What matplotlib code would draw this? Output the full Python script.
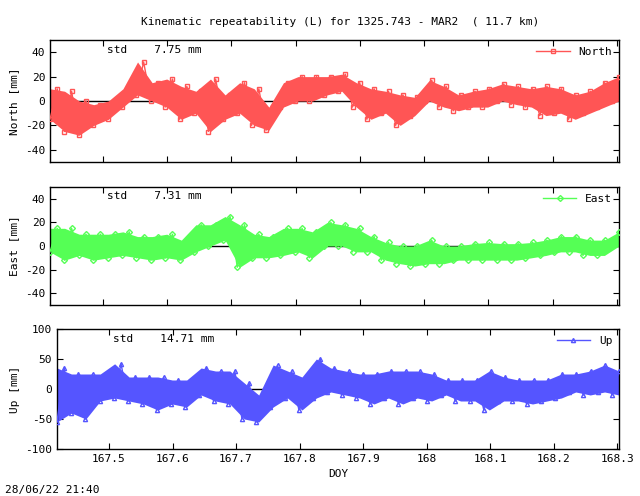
import numpy as np
import matplotlib
matplotlib.use("Agg")
import matplotlib.pyplot as plt

x_start, x_end = 167.418, 168.303
# per-segment (low, high) envelopes, mm
north_low = [-15,-25,-28,-20,-15,-5,5,0,-5,-15,-10,-25,-15,-10,-20,-24,-5,0,0,5,8,-5,-15,-10,-20,-12,0,-5,-8,-5,-5,0,-3,-5,-12,-10,-15,-10,-5,0]
north_high = [10,8,0,-3,0,10,32,15,18,12,8,18,5,15,10,-5,15,20,20,20,22,15,10,8,5,3,17,12,5,8,10,14,12,10,12,10,5,8,15,20]
east_low = [-5,-12,-8,-12,-10,-8,-10,-12,-10,-12,-5,0,5,-18,-10,-10,-8,-5,-10,0,0,-5,-5,-12,-15,-17,-15,-15,-12,-12,-12,-12,-12,-10,-8,-5,-5,-8,-8,0]
east_high = [15,15,10,10,10,12,8,8,10,5,18,18,25,18,10,8,15,15,12,20,18,15,8,3,0,0,5,0,0,2,3,2,2,3,5,8,8,5,5,12]
up_low = [-55,-40,-50,-20,-15,-20,-25,-35,-25,-30,-10,-20,-25,-50,-55,-30,-15,-35,-15,-5,-10,-15,-25,-15,-25,-15,-20,-10,-20,-20,-35,-20,-20,-25,-20,-15,-5,-10,-5,-10]
up_high = [35,25,25,25,42,20,20,20,15,15,35,30,30,10,-10,40,30,20,50,35,30,25,25,30,30,30,25,15,15,15,30,20,15,15,15,25,25,30,40,30]

def zig(low, high):
    n = len(low)
    xs = np.linspace(x_start, x_end, 2 * n)
    ys = np.empty(2 * n)
    ys[0::2] = low
    ys[1::2] = high
    return xs, ys

plt.rcParams["font.family"] = "DejaVu Sans Mono"
plt.rcParams["font.size"] = 8
fig = plt.figure(figsize=(6.4, 4.96), dpi=100)
W, H = 640, 496
def ax_at(l, t, r, b):
    return fig.add_axes([l / W, 1 - b / H, (r - l) / W, (b - t) / H])

panels = [
    (ax_at(50, 40, 619, 162), north_low, north_high, "North", "#ff5555", "s", (-50, 50), [-40, -20, 0, 20, 40], "std    7.75 mm"),
    (ax_at(50, 187, 619, 305), east_low, east_high, "East", "#55ff55", "D", (-50, 50), [-40, -20, 0, 20, 40], "std    7.31 mm"),
    (ax_at(57, 329, 619, 449), up_low, up_high, "Up", "#5555ff", "^", (-100, 100), [-100, -50, 0, 50, 100], "std    14.71 mm"),
]
for i, (ax, lo, hi, name, col, mk, yl, yt, std) in enumerate(panels):
    xs, ys = zig(lo, hi)
    xc = np.linspace(x_start, x_end, len(lo))
    ax.axhline(0, color="black", lw=1, zorder=1)
    ax.fill_between(xc, lo, hi, color=col, lw=0, zorder=2)
    ax.plot(xs, ys, color=col, lw=1.0, marker=mk, ms=3, mfc="none", mec=col, mew=1, label=name, zorder=3)
    ax.set_xlim(x_start, x_end)
    ax.set_ylim(*yl)
    ax.set_yticks(yt)
    ax.set_yticklabels([str(v) for v in yt])
    ax.set_xticks([167.5, 167.6, 167.7, 167.8, 167.9, 168.0, 168.1, 168.2, 168.3])
    ax.tick_params(direction="in", top=True, right=True, length=4)
    if i < 2:
        ax.set_xticklabels([])
    else:
        ax.set_xticklabels(["167.5", "167.6", "167.7", "167.8", "167.9", "168", "168.1", "168.2", "168.3"])
        ax.set_xlabel("DOY")
    ax.set_ylabel(name + " [mm]")
    ax.text(0.10, 0.92, std, transform=ax.transAxes, va="center")
    ax.legend(loc="upper right", frameon=False, handlelength=3, borderaxespad=0.2)
    for s in ax.spines.values():
        s.set_linewidth(1)

fig.text(340 / W, 1 - 22 / H, "Kinematic repeatability (L) for 1325.743 - MAR2  ( 11.7 km)", ha="center", va="center")
fig.text(5 / W, 1 - 490 / H, "28/06/22 21:40", ha="left", va="center")
fig.savefig("out.png", dpi=100)
